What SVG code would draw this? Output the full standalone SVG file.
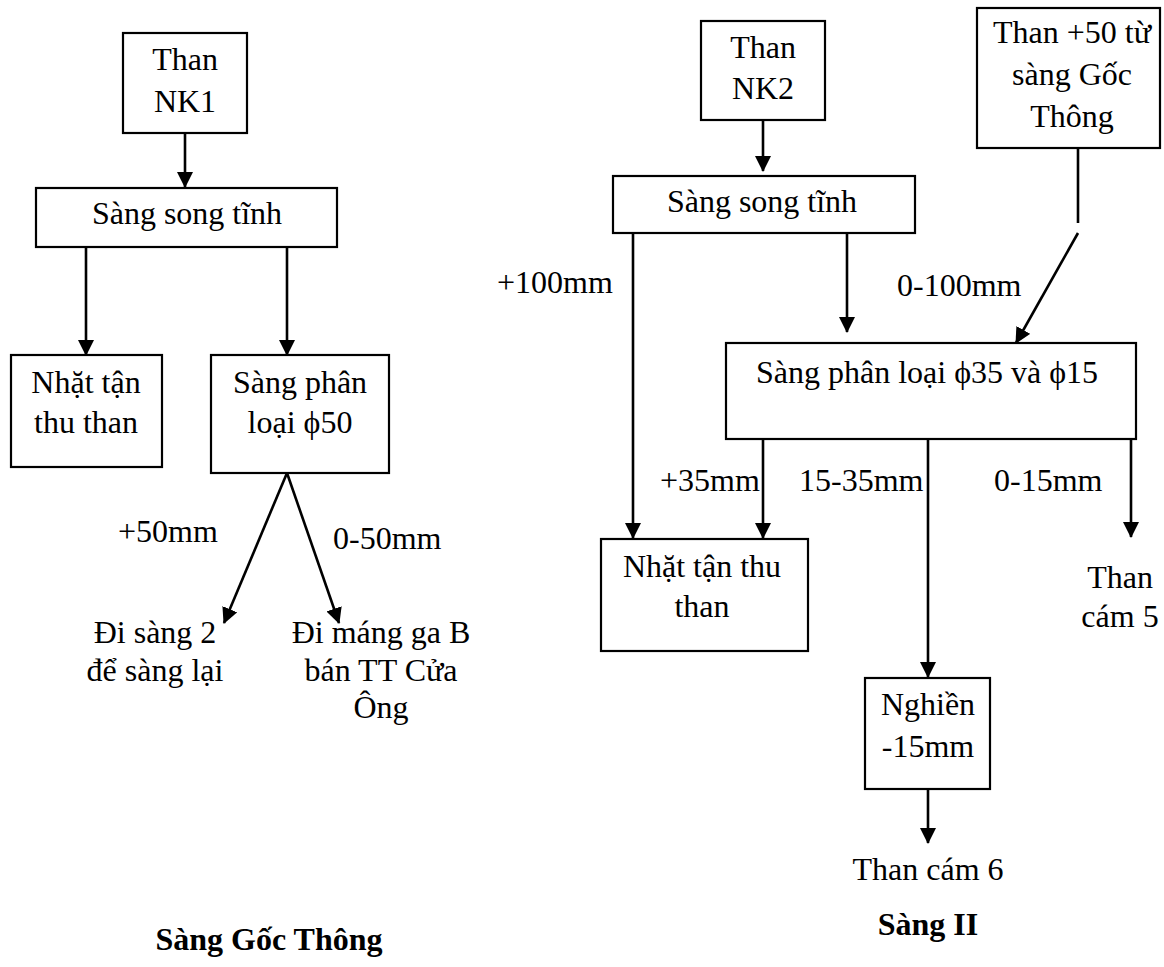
<svg xmlns="http://www.w3.org/2000/svg" width="1164" height="967" viewBox="0 0 1164 967">
  <style>
    .box { fill: #ffffff; stroke: #000000; stroke-width: 2.2; }
    .conn { fill: none; stroke: #000000; stroke-width: 2.6; }
    .arrow { marker-end: url(#head); }
    text { font-family: "Liberation Serif", "Times New Roman", serif; font-size: 32px; fill: #000000; }
    .c { text-anchor: middle; }
    .title { font-weight: bold; }
  </style>
  <defs>
    <marker id="head" markerUnits="userSpaceOnUse" markerWidth="16" markerHeight="16" viewBox="0 0 16 16" refX="15" refY="8" orient="auto">
      <path d="M0,0 L16,8 L0,16 Z" fill="#000000"/>
    </marker>
  </defs>

  <rect width="1164" height="967" fill="#ffffff"/>

  <!-- Connectors -->
  <g id="connectors">
    <!-- Sàng Gốc Thông -->
    <line class="conn arrow" x1="185" y1="133" x2="185" y2="187"/>
    <line class="conn arrow" x1="86" y1="247" x2="86" y2="355"/>
    <line class="conn arrow" x1="287" y1="247" x2="287" y2="355"/>
    <line class="conn arrow" x1="287" y1="473" x2="224" y2="623"/>
    <line class="conn arrow" x1="287" y1="473" x2="339" y2="623"/>
    <!-- Sàng II -->
    <line class="conn arrow" x1="763" y1="120" x2="763" y2="171"/>
    <line class="conn arrow" x1="633" y1="233" x2="633" y2="538"/>
    <line class="conn arrow" x1="847" y1="233" x2="847" y2="332"/>
    <line class="conn" x1="1078" y1="148" x2="1078" y2="223"/>
    <line class="conn arrow" x1="1078" y1="233" x2="1016" y2="343"/>
    <line class="conn arrow" x1="763" y1="440" x2="763" y2="538"/>
    <line class="conn arrow" x1="928" y1="440" x2="928" y2="677"/>
    <line class="conn arrow" x1="1131" y1="440" x2="1131" y2="537"/>
    <line class="conn arrow" x1="928" y1="789" x2="928" y2="843"/>
  </g>

  <!-- Sàng Gốc Thông nodes -->
  <g id="nk1">
    <rect class="box" x="123" y="33" width="124" height="100"/>
    <text class="c" x="185" y="70">Than</text>
    <text class="c" x="185" y="112">NK1</text>
  </g>
  <g id="song-tinh-1">
    <rect class="box" x="36" y="188" width="301" height="59"/>
    <text class="c" x="187" y="224">Sàng song tĩnh</text>
  </g>
  <g id="nhat-tan-1">
    <rect class="box" x="11" y="355" width="151" height="112"/>
    <text class="c" x="86" y="393">Nhặt tận</text>
    <text class="c" x="86" y="433">thu than</text>
  </g>
  <g id="phan-loai-50">
    <rect class="box" x="211" y="355" width="178" height="118"/>
    <text class="c" x="300" y="393">Sàng phân</text>
    <text class="c" x="300" y="433">loại ϕ50</text>
  </g>
  <g id="label-plus50">
    <text x="118" y="542">+50mm</text>
  </g>
  <g id="label-0-50">
    <text x="333" y="549">0-50mm</text>
  </g>
  <g id="di-sang-2">
    <text class="c" x="155" y="643">Đi sàng 2</text>
    <text class="c" x="155" y="681">để sàng lại</text>
  </g>
  <g id="di-mang-ga">
    <text class="c" x="381" y="643">Đi máng ga B</text>
    <text class="c" x="381" y="681">bán TT Cửa</text>
    <text class="c" x="381" y="718">Ông</text>
  </g>
  <g id="title-goc-thong">
    <text class="c title" x="269" y="950">Sàng Gốc Thông</text>
  </g>

  <!-- Sàng II nodes -->
  <g id="nk2">
    <rect class="box" x="701" y="21" width="124" height="99"/>
    <text class="c" x="763" y="58">Than</text>
    <text class="c" x="763" y="99">NK2</text>
  </g>
  <g id="than-50">
    <rect class="box" x="977" y="8" width="183" height="140"/>
    <text class="c" x="1072" y="43">Than +50 từ</text>
    <text class="c" x="1072" y="85">sàng Gốc</text>
    <text class="c" x="1072" y="127">Thông</text>
  </g>
  <g id="song-tinh-2">
    <rect class="box" x="613" y="176" width="302" height="57"/>
    <text class="c" x="762" y="212">Sàng song tĩnh</text>
  </g>
  <g id="label-plus100">
    <text x="497" y="293">+100mm</text>
  </g>
  <g id="label-0-100">
    <text x="897" y="296">0-100mm</text>
  </g>
  <g id="phan-loai-35-15">
    <rect class="box" x="726" y="343" width="410" height="96"/>
    <text class="c" x="927" y="383">Sàng phân loại ϕ35 và ϕ15</text>
  </g>
  <g id="label-plus35">
    <text x="660" y="491">+35mm</text>
  </g>
  <g id="label-15-35">
    <text x="799" y="491">15-35mm</text>
  </g>
  <g id="label-0-15">
    <text x="994" y="491">0-15mm</text>
  </g>
  <g id="nhat-tan-2">
    <rect class="box" x="601" y="539" width="207" height="112"/>
    <text class="c" x="702" y="577">Nhặt tận thu</text>
    <text class="c" x="702" y="617">than</text>
  </g>
  <g id="than-cam-5">
    <text class="c" x="1120" y="588">Than</text>
    <text class="c" x="1120" y="627">cám 5</text>
  </g>
  <g id="nghien">
    <rect class="box" x="865" y="678" width="125" height="111"/>
    <text class="c" x="928" y="715">Nghiền</text>
    <text class="c" x="928" y="757">-15mm</text>
  </g>
  <g id="than-cam-6">
    <text class="c" x="928" y="880">Than cám 6</text>
  </g>
  <g id="title-sang-2">
    <text class="c title" x="928" y="935">Sàng II</text>
  </g>
</svg>
